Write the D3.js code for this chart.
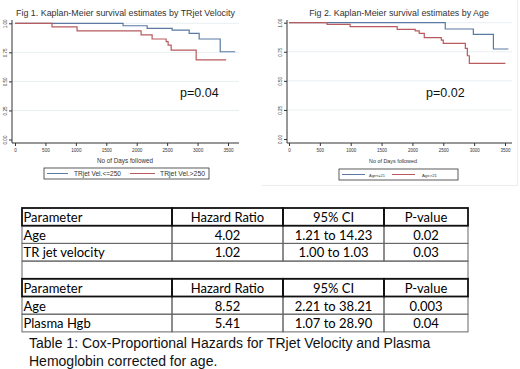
<!DOCTYPE html>
<html>
<head>
<meta charset="utf-8">
<script src="https://cdn.jsdelivr.net/npm/d3@7"></script>
<style>
  body { margin: 0; background: #fff; }
  svg { display: block; }
</style>
</head>
<body>
<svg id="chart" width="520" height="369"></svg>
<script>
// Fig 1 - survival by TR jet velocity
const fig1LowTimes = [0, 1776, 2171, 2582, 2862, 3026, 3372, 3618];
const fig1LowSurv  = [1, 0.979, 0.957, 0.942, 0.914, 0.865, 0.755, 0.755];
const fig1HighTimes = [0, 608, 1020, 2072, 2253, 2484, 2516, 2566, 2977, 3470];
const fig1HighSurv  = [1, 0.97, 0.935, 0.9, 0.865, 0.842, 0.813, 0.77, 0.685, 0.685];

// Fig 2 - survival by age
const fig2YoungTimes = [0, 2532, 2987, 3312, 3555];
const fig2YoungSurv  = [1, 0.946, 0.9, 0.774, 0.774];
const fig2OldTimes = [0, 617, 990, 1753, 2045, 2110, 2192, 2468, 2500, 2857, 2890, 2922, 3506];
const fig2OldSurv  = [1, 0.986, 0.966, 0.943, 0.929, 0.909, 0.871, 0.851, 0.823, 0.78, 0.716, 0.65, 0.65];

const dayTicks = [0, 500, 1000, 1500, 2000, 2500, 3000, 3500];
const survTicks = [0, 0.25, 0.5, 0.75, 1];

// Cox table
const tableHeader = ["Parameter", "Hazard Ratio", "95% CI", "P-value"];
const tableRows1 = [
    ["Age", "4.02", "1.21 to 14.23", "0.02"],
    ["TR jet velocity", "1.02", "1.00 to 1.03", "0.03"]
];
const tableRows2 = [
    ["Age", "8.52", "2.21 to 38.21", "0.003"],
    ["Plasma Hgb", "5.41", "1.07 to 28.90", "0.04"]
];
const captionLines = [
    "Table 1: Cox-Proportional Hazards for TRjet Velocity and Plasma",
    "Hemoglobin corrected for age."
];

const blue = "#5a7aa2", red = "#b85a5e";
const sans = "Liberation Sans, Arial, sans-serif";
const svg = d3.select("#chart");
svg.append("rect").attr("width", 520).attr("height", 369).attr("fill", "#fff");

function toPoints(times, surv) {
    return times.map((t, i) => [t, surv[i]]);
}

// scale font so the text takes the width it has in the picture
function fitWidth(sel, width) {
    const w = sel.node().getComputedTextLength();
    const fs = parseFloat(sel.style("font-size"));
    sel.style("font-size", (fs * width / w) + "px");
    return sel;
}

function kmPlot(cfg) {
    const g = svg.append("g");
    const x = d3.scaleLinear().domain([0, 3500]).range(cfg.xRange);
    const y = d3.scaleLinear().domain([0, 1]).range(cfg.yRange);

    // faint grid
    g.selectAll(".grid")
        .data(survTicks.slice(1))
        .enter().append("line")
        .attr("x1", cfg.left).attr("x2", cfg.right)
        .attr("y1", d => y(d)).attr("y2", d => y(d))
        .attr("stroke", "#e9eff2").attr("stroke-width", 1);

    // x axis
    const xa = g.append("g")
        .attr("transform", "translate(0," + cfg.bottom + ")")
        .call(d3.axisBottom(x).tickValues(dayTicks).tickSize(3).tickSizeOuter(0)
            .tickPadding(3).tickFormat(d3.format("d")));
    xa.select(".domain").remove();
    xa.selectAll("line").attr("stroke", "#333");
    xa.selectAll("text")
        .style("font-family", sans)
        .style("font-size", cfg.tickFont + "px")
        .attr("fill", "#333");

    // y axis
    const ya = g.append("g")
        .attr("transform", "translate(" + cfg.left + ",0)")
        .call(d3.axisLeft(y).tickValues(survTicks).tickSize(3).tickSizeOuter(0).tickFormat(d3.format(".2f")));
    ya.select(".domain").remove();
    ya.selectAll("line").attr("stroke", "#333");
    ya.selectAll("text")
        .attr("x", null)
        .attr("transform", "translate(-7,0) rotate(-90)")
        .attr("dy", "0.35em")
        .style("text-anchor", "middle")
        .style("font-family", sans)
        .style("font-size", cfg.tickFont + "px")
        .attr("fill", "#333");

    // axis lines
    g.append("line")
        .attr("x1", cfg.left).attr("x2", cfg.right)
        .attr("y1", cfg.bottom).attr("y2", cfg.bottom)
        .attr("stroke", "#333").attr("stroke-width", 1);
    g.append("line")
        .attr("x1", cfg.left).attr("x2", cfg.left)
        .attr("y1", cfg.top).attr("y2", cfg.bottom)
        .attr("stroke", "#333").attr("stroke-width", 1);

    const line = d3.line()
        .x(d => x(d[0]))
        .y(d => y(d[1]))
        .curve(d3.curveStepAfter);

    cfg.series.forEach(s => {
        g.append("path")
            .attr("d", line(toPoints(s.times, s.surv)))
            .attr("fill", "none")
            .attr("stroke", s.color)
            .attr("stroke-width", 1.2);
    });

    // title
    fitWidth(g.append("text")
        .attr("x", cfg.titleX).attr("y", 16)
        .attr("text-anchor", "middle")
        .style("font-family", sans)
        .style("font-size", "9px")
        .attr("fill", "#333")
        .text(cfg.title), cfg.titleW);

    // x label
    fitWidth(g.append("text")
        .attr("x", cfg.xLabelX).attr("y", 163)
        .attr("text-anchor", "middle")
        .style("font-family", sans)
        .style("font-size", "6px")
        .attr("fill", "#333")
        .text("No of Days followed"), cfg.xLabelW);

    // p value
    g.append("text")
        .attr("x", cfg.pX).attr("y", 97)
        .style("font-family", sans)
        .style("font-size", "12.5px")
        .attr("fill", "#111")
        .text(cfg.pText);

    // legend
    const lg = cfg.legend;
    g.append("rect")
        .attr("x", lg.x).attr("y", lg.y).attr("width", lg.w).attr("height", 11)
        .attr("fill", "#fff").attr("stroke", "#333").attr("stroke-width", 0.8);
    cfg.series.forEach((s, i) => {
        const it = lg.items[i];
        g.append("line")
            .attr("x1", it[0]).attr("x2", it[1])
            .attr("y1", lg.y + 5.5).attr("y2", lg.y + 5.5)
            .attr("stroke", s.color).attr("stroke-width", 1);
        fitWidth(g.append("text")
            .attr("x", it[2]).attr("y", lg.y + 7.6)
            .style("font-family", sans)
            .style("font-size", "6px")
            .attr("fill", "#333")
            .text(s.name), it[3]);
    });
}

kmPlot({
    xRange: [15, 228], yRange: [139.5, 23.3],
    left: 12, right: 239, top: 20, bottom: 143, tickFont: 4.6,
    title: "Fig 1. Kaplan-Meier survival estimates by TRjet Velocity", titleX: 125.5, titleW: 219,
    xLabelX: 125, xLabelW: 56, pX: 180, pText: "p=0.04",
    legend: { x: 44, y: 168, w: 165, items: [[47, 68, 74, 47], [130, 155, 160, 45]] },
    series: [
        { name: "TRjet Vel.<=250", times: fig1LowTimes, surv: fig1LowSurv, color: blue },
        { name: "TRjet Vel.>250", times: fig1HighTimes, surv: fig1HighSurv, color: red }
    ]
});

kmPlot({
    xRange: [289, 505], yRange: [139, 22.7],
    left: 287, right: 512, top: 20, bottom: 143, tickFont: 4.5,
    title: "Fig 2. Kaplan-Meier survival estimates by Age", titleX: 399, titleW: 180,
    xLabelX: 393, xLabelW: 48, pX: 426, pText: "p=0.02",
    legend: { x: 339, y: 169, w: 119, items: [[342, 365, 369, 16], [392, 415, 422, 15]] },
    series: [
        { name: "Age<=21", times: fig2YoungTimes, surv: fig2YoungSurv, color: blue },
        { name: "Age>21", times: fig2OldTimes, surv: fig2OldSurv, color: red }
    ]
});

// faint frame of the second figure
svg.append("path")
    .attr("d", "M262,185.5H517.5V0")
    .attr("fill", "none").attr("stroke", "#ececec").attr("stroke-width", 1);

// table
const colX = [22, 172, 283, 384, 468];
const tableTop = 208, rowH = 17.7;
const allRows = [tableHeader].concat(tableRows1, [null], [tableHeader], tableRows2);
const tg = svg.append("g");

allRows.forEach((row, r) => {
    const y0 = tableTop + r * rowH;
    if (row === null) {
        tg.append("rect")
            .attr("x", colX[0]).attr("y", y0)
            .attr("width", colX[4] - colX[0]).attr("height", rowH)
            .attr("fill", "none").attr("stroke", "#666").attr("stroke-width", 1);
        return;
    }
    const isHead = row === tableHeader;
    row.forEach((cell, c) => {
        tg.append("rect")
            .attr("x", colX[c]).attr("y", y0)
            .attr("width", colX[c + 1] - colX[c]).attr("height", rowH)
            .attr("fill", "none")
            .attr("stroke", isHead ? "#111" : "#666")
            .attr("stroke-width", isHead ? 1.8 : 1)
            .attr("class", isHead ? "head" : "body");
        tg.append("text")
            .attr("x", c === 0 ? colX[0] + 1.5 : (colX[c] + colX[c + 1]) / 2)
            .attr("y", y0 + 14)
            .attr("text-anchor", c === 0 ? "start" : "middle")
            .style("font-family", "Lato, Carlito, sans-serif")
            .style("font-size", "13px")
            .attr("fill", "#000")
            .text(cell);
    });
});
tg.selectAll("rect.head").raise();

svg.selectAll(".caption")
    .data(captionLines)
    .enter().append("text")
    .attr("class", "caption")
    .attr("x", 29)
    .attr("y", (d, i) => 347.5 + i * 18.5)
    .style("font-family", sans)
    .style("font-size", "14px")
    .attr("fill", "#111")
    .text(d => d);
</script>
</body>
</html>
